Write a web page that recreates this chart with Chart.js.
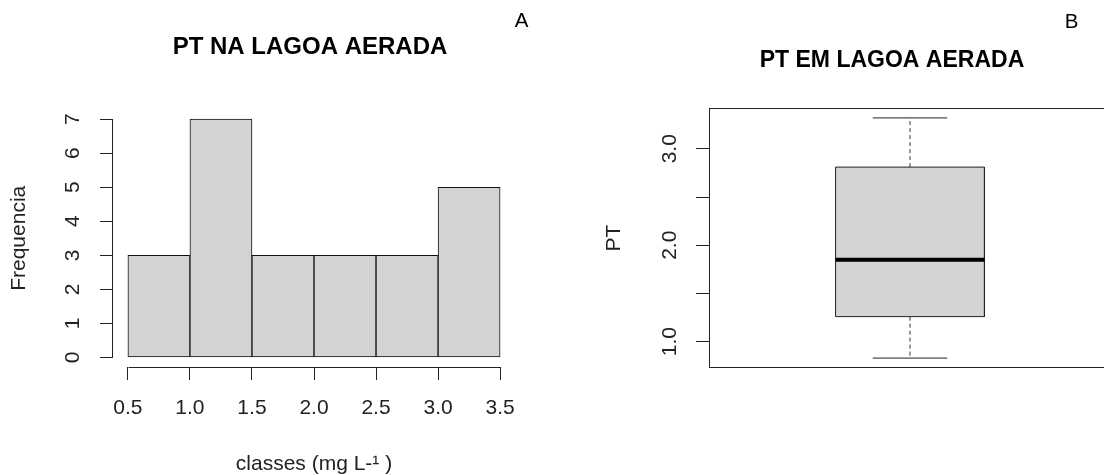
<!DOCTYPE html>
<html>
<head>
<meta charset="utf-8">
<script src="https://cdn.jsdelivr.net/npm/chart.js@4.4.1/dist/chart.umd.min.js"></script>
<style>
  html, body { margin: 0; padding: 0; background: #fff; }
  #wrap { position: relative; width: 1104px; height: 475px; overflow: hidden; font-family: "Liberation Sans", Arial, sans-serif; }
  .panel { position: absolute; top: 0; }
  #panelA { left: 0; width: 620px; height: 475px; }
  #panelB { left: 552px; width: 680px; height: 475px; }
  .tag { position: absolute; font-size: 20.5px; line-height: 1; color: #000; transform: translate(-50%, -50%); }
</style>
</head>
<body>
<div id="wrap">
  <div class="panel" id="panelA"><canvas id="histA" width="620" height="475"></canvas></div>
  <div class="panel" id="panelB"><canvas id="boxB" width="680" height="475"></canvas></div>
  <div class="tag" style="left:521.5px; top:20.3px;">A</div>
  <div class="tag" style="left:1071.5px; top:20.5px;">B</div>
</div>
<script>
// histograma (A)
const classBreaks = [0.5, 1.0, 1.5, 2.0, 2.5, 3.0, 3.5];
const frequencias = [3, 7, 3, 3, 3, 5];

// boxplot (B): min, Q1, mediana, Q3, max
const ptStats = [0.83, 1.26, 1.85, 2.81, 3.32];
const ptTickLabels = ['1.0', '2.0', '3.0'];

Chart.defaults.font.family = '"Liberation Sans", Arial, sans-serif';
Chart.defaults.color = '#000';

// R style axis lines: only from first to last tick
const axisLines = {
  id: 'axisLines',
  afterDraw: function(chart) {
    const ctx = chart.ctx;
    const a = chart.chartArea;
    const sx = chart.scales.x, sy = chart.scales.y;
    const xb = Math.round(a.bottom) + 0.5;
    const yl = Math.round(a.left) - 0.5;
    ctx.save();
    ctx.strokeStyle = '#222';
    ctx.lineWidth = 1;
    ctx.beginPath();
    ctx.moveTo(Math.round(sx.getPixelForValue(sx.ticks[0].value)) + 0.5, xb);
    ctx.lineTo(Math.round(sx.getPixelForValue(sx.ticks[sx.ticks.length - 1].value)) + 0.5, xb);
    ctx.moveTo(yl, Math.round(sy.getPixelForValue(sy.ticks[0].value)) + 0.5);
    ctx.lineTo(yl, Math.round(sy.getPixelForValue(sy.ticks[sy.ticks.length - 1].value)) + 0.5);
    ctx.stroke();
    ctx.restore();
  }
};

// box around the plot region
const frameBox = {
  id: 'frameBox',
  afterDraw: function(chart) {
    const ctx = chart.ctx;
    const a = chart.chartArea;
    ctx.save();
    ctx.strokeStyle = '#222';
    ctx.lineWidth = 1;
    ctx.strokeRect(Math.round(a.left) + 0.5, Math.round(a.top) + 0.5, Math.round(a.right - a.left), Math.round(a.bottom - a.top));
    ctx.restore();
  }
};

// empty right-hand axis, only to reserve room so the title centres over the plot
function spacer(w) {
  return {
    position: 'right',
    grid: { display: false },
    border: { display: false },
    ticks: { display: false },
    afterFit: function(s) { s.width = w; }
  };
}

// ---- A: histogram ----
var histData = frequencias.map(function(f, i) {
  return { x: (classBreaks[i] + classBreaks[i + 1]) / 2, y: f };
});
var xLo = classBreaks[0], xHi = classBreaks[classBreaks.length - 1];
var xExt = (xHi - xLo) * 0.04;
var fMax = Math.max.apply(null, frequencias);
var fExt = fMax * 0.04;

new Chart(document.getElementById('histA'), {
  type: 'bar',
  data: {
    datasets: [{
      data: histData,
      backgroundColor: '#d3d3d3',
      borderColor: '#111',
      borderWidth: 1,
      borderSkipped: false,
      barPercentage: 1,
      categoryPercentage: 1
    }]
  },
  options: {
    responsive: false,
    animation: false,
    devicePixelRatio: 1,
    layout: { padding: 0 },
    plugins: {
      legend: { display: false },
      tooltip: { enabled: false },
      title: {
        display: true,
        text: 'PT NA LAGOA AERADA',
        color: '#000',
        font: { size: 24, weight: 'bold' },
        padding: { top: 32.6, bottom: 48.2 }
      }
    },
    scales: {
      x: {
        type: 'linear',
        min: xLo - xExt,
        max: xHi + xExt,
        offset: false,
        border: { display: false },
        grid: { offset: false, drawOnChartArea: false, tickLength: 13, color: '#222' },
        ticks: {
          stepSize: 0.5, includeBounds: false, autoSkip: false, maxRotation: 0,
          padding: 15.4, color: '#222', font: { size: 21 },
          callback: function(v) { return v.toFixed(1); }
        },
        title: { display: true, text: 'classes (mg L-¹ )', color: '#222', font: { size: 21, lineHeight: 1 }, padding: 0 },
        afterFit: function(s) { s.height = 108; s.paddingLeft = 0; s.paddingRight = 0; }
      },
      y: {
        min: -fExt,
        max: fMax + fExt,
        border: { display: false },
        grid: { drawOnChartArea: false, tickLength: 13, color: '#222' },
        ticks: {
          stepSize: 1, includeBounds: false, autoSkip: false,
          minRotation: 90, maxRotation: 90, crossAlign: 'center',
          padding: 20.7, color: '#222', font: { size: 21 }
        },
        title: { display: true, text: 'Frequencia', color: '#222', font: { size: 21 }, padding: { top: 6.7, bottom: 0 } },
        afterFit: function(s) { s.width = 113; s.paddingTop = 0; s.paddingBottom = 0; }
      },
      ySpace: spacer(105)
    }
  },
  plugins: [axisLines]
});

// ---- B: boxplot ----
var ptMin = ptStats[0], ptQ1 = ptStats[1], ptMed = ptStats[2], ptQ3 = ptStats[3], ptMax = ptStats[4];
var boxHalf = 0.2, capHalf = 0.1;
var ptExt = (ptMax - ptMin) * 0.04;

function seg(points, extra) {
  var ds = {
    data: points,
    borderColor: '#222',
    borderWidth: 1,
    pointRadius: 0,
    tension: 0,
    fill: false
  };
  for (var k in extra) ds[k] = extra[k];
  return ds;
}

new Chart(document.getElementById('boxB'), {
  type: 'line',
  data: {
    datasets: [
      // box fill between Q1 and Q3
      seg([{ x: 1 - boxHalf, y: ptQ3 }, { x: 1 + boxHalf, y: ptQ3 }],
        { fill: { value: ptQ1 }, backgroundColor: '#d3d3d3', borderWidth: 0, order: 5 }),
      // whiskers
      seg([{ x: 1, y: ptQ3 }, { x: 1, y: ptMax }], { borderDash: [4, 3], borderColor: '#333', order: 4 }),
      seg([{ x: 1, y: ptQ1 }, { x: 1, y: ptMin }], { borderDash: [4, 3], borderColor: '#333', order: 4 }),
      // staples
      seg([{ x: 1 - capHalf, y: ptMax }, { x: 1 + capHalf, y: ptMax }], { order: 3 }),
      seg([{ x: 1 - capHalf, y: ptMin }, { x: 1 + capHalf, y: ptMin }], { order: 3 }),
      // box outline
      seg([{ x: 1 - boxHalf, y: ptQ1 }, { x: 1 - boxHalf, y: ptQ3 }, { x: 1 + boxHalf, y: ptQ3 },
           { x: 1 + boxHalf, y: ptQ1 }, { x: 1 - boxHalf, y: ptQ1 }], { order: 2 }),
      // median
      seg([{ x: 1 - boxHalf, y: ptMed }, { x: 1 + boxHalf, y: ptMed }], { borderWidth: 4, borderColor: '#000', order: 1 })
    ]
  },
  options: {
    responsive: false,
    animation: false,
    devicePixelRatio: 1,
    layout: { padding: { left: 0, right: 0, top: 0, bottom: 107.3 } },
    plugins: {
      legend: { display: false },
      tooltip: { enabled: false },
      title: {
        display: true,
        text: 'PT EM LAGOA AERADA',
        color: '#000',
        font: { size: 23, weight: 'bold' },
        padding: { top: 47, bottom: 33.7 }
      }
    },
    scales: {
      x: { type: 'linear', display: false, min: 0.5 - 0.04, max: 1.5 + 0.04 },
      y: {
        min: ptMin - ptExt,
        max: ptMax + ptExt,
        border: { display: false },
        grid: { drawOnChartArea: false, tickLength: 13, color: '#222' },
        ticks: {
          stepSize: 0.5, includeBounds: false, autoSkip: false,
          minRotation: 90, maxRotation: 90, crossAlign: 'center',
          padding: 11.4, color: '#222', font: { size: 21 },
          callback: function(v) {
            var s = v.toFixed(1);
            return ptTickLabels.indexOf(s) >= 0 ? s : '';
          }
        },
        title: { display: true, text: 'PT', color: '#222', font: { size: 21 }, padding: { top: 49.7, bottom: 0 } },
        afterFit: function(s) { s.width = 157; s.paddingTop = 0; s.paddingBottom = 0; }
      },
      ySpace: spacer(121)
    }
  },
  plugins: [frameBox]
});
</script>
</body>
</html>
